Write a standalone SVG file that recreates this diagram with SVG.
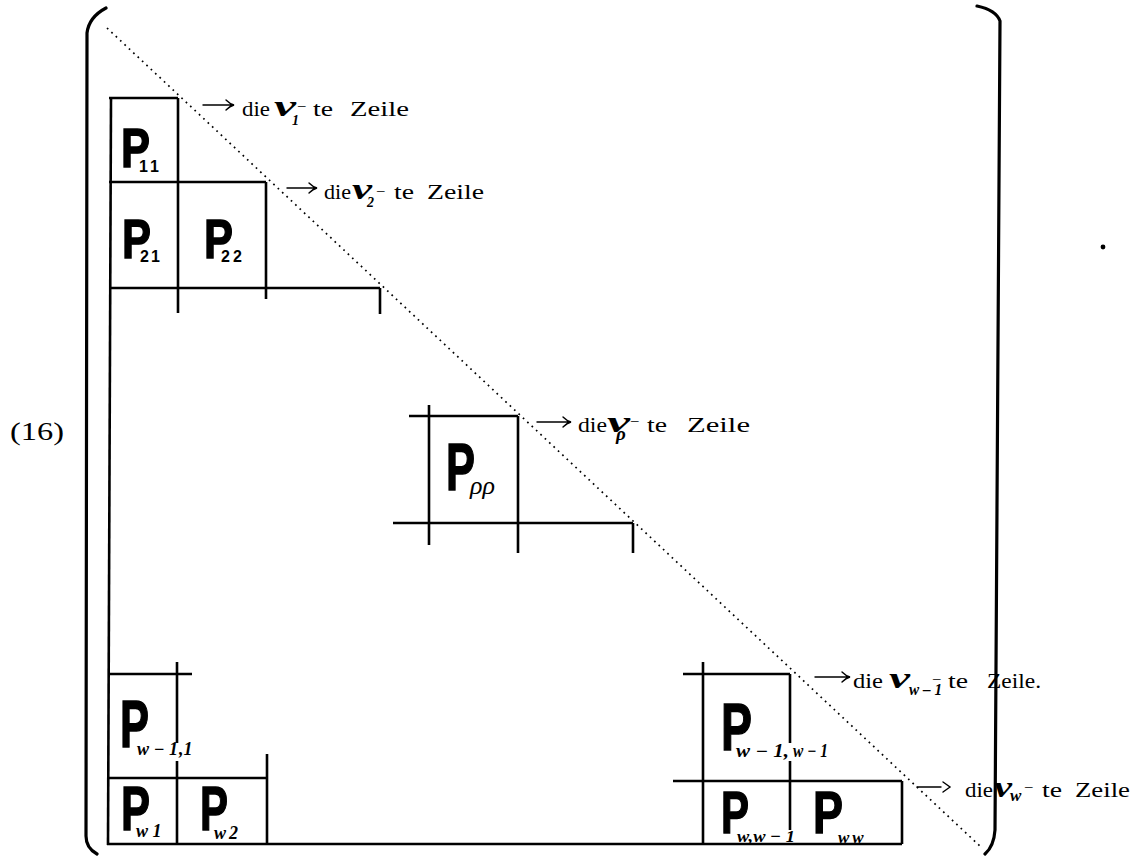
<svg xmlns="http://www.w3.org/2000/svg" width="1136" height="856" viewBox="0 0 1136 856">
<style>
.ln{stroke:#000;stroke-width:2.6;fill:none}
.br{stroke:#000;stroke-width:3.2;fill:none;stroke-linecap:round}
.dot{stroke:#000;stroke-width:1.7;fill:none;stroke-dasharray:1.7 4.3}
.ar{stroke:#000;stroke-width:1.4;fill:none;stroke-linecap:round}
.P{font-family:"Liberation Sans",Arial,sans-serif;font-weight:bold;fill:#000;stroke:#000;stroke-width:1.4}
.sd{font-family:"Liberation Sans",Arial,sans-serif;font-weight:bold;font-size:16px;stroke:none}
.si{font-family:"Liberation Serif","Times New Roman",serif;font-style:italic;font-weight:normal;stroke:none}
.sm{font-family:"Liberation Serif","Times New Roman",serif;font-style:italic;font-weight:bold;stroke:none}
.sb{font-family:"Liberation Serif","Times New Roman",serif;font-style:italic;font-weight:bold}
.t{font-family:"Liberation Serif","Times New Roman",serif;fill:#000;font-size:21px}
.nu{font-style:italic;font-weight:bold;font-size:30px}
.ds{font-size:15px}
</style>
<rect width="1136" height="856" fill="#fff"/>
<text x="10" y="440" font-family="Liberation Serif,Times New Roman,serif" font-size="26" textLength="54" lengthAdjust="spacingAndGlyphs">(16)</text>
<g id="brackets">
<path class="br" d="M106,8 Q89,17 87,33 L86,836 Q86,848 97,854"/>
<path class="br" d="M977,6 Q996,10 1000,21 L995,830 Q994,846 985,854"/>
</g>
<circle cx="1103" cy="247" r="2.4" fill="#000"/>
<g id="grid">
<path class="ln" d="M111,98 L108,845"/>
<path class="ln" d="M109,98 H178 M178,98 V313 M109,182 H266 M266,182 V299 M109,288 H380 M380,288 V314"/>
<path class="ln" d="M409,416 H518 M429,405 V545 M518,416 V553 M393,523 H633 M633,523 V553"/>
<path class="ln" d="M108,674 H192 M177,662 V743 M177,761 V843 M108,778 H267 M267,754 V843 M107,844 H902"/>
<path class="ln" d="M683,674 H790 M703,662 V844 M790,674 V743 M790,761 V830 M673,781 H902 M902,781 V844"/>
</g>
<g id="connectors">
<path class="dot" d="M107,28 L982,848"/>
<path class="ar" d="M203,105 H233 M226,100 Q230,104 234,105 Q230,106 226,110"/>
<path class="ar" d="M287,188 H316 M309,183 Q313,187 317,188 Q313,189 309,193"/>
<path class="ar" d="M537,422 H570 M563,417 Q567,421 571,422 Q567,423 563,427"/>
<path class="ar" d="M815,677 H849 M842,672 Q846,676 850,677 Q846,678 842,682"/>
<path class="ar" d="M917,787 H941 M943,782 L950,787 L943,792"/>
</g>
<g id="label-nu1">
<text class="t"><tspan x="242" y="116" textLength="28" lengthAdjust="spacingAndGlyphs">die</tspan><tspan class="nu" x="274" y="116" textLength="22" lengthAdjust="spacingAndGlyphs">ν</tspan><tspan class="sb" x="292" y="125" font-size="14">1</tspan><tspan class="ds" x="298" y="110">–</tspan><tspan x="313" y="116" textLength="20" lengthAdjust="spacingAndGlyphs">te</tspan><tspan x="350" y="116" textLength="59" lengthAdjust="spacingAndGlyphs">Zeile</tspan></text>
</g>
<g id="label-nu2">
<text class="t"><tspan x="324" y="199" textLength="27" lengthAdjust="spacingAndGlyphs">die</tspan><tspan class="nu" x="352" y="199" textLength="20" lengthAdjust="spacingAndGlyphs">ν</tspan><tspan class="sb" x="367" y="207" font-size="14">2</tspan><tspan class="ds" x="377" y="195">–</tspan><tspan x="394" y="199" textLength="20" lengthAdjust="spacingAndGlyphs">te</tspan><tspan x="427" y="199" textLength="57" lengthAdjust="spacingAndGlyphs">Zeile</tspan></text>
</g>
<g id="label-nurho">
<text class="t"><tspan x="578" y="432" textLength="29" lengthAdjust="spacingAndGlyphs">die</tspan><tspan class="nu" x="607" y="432" textLength="23" lengthAdjust="spacingAndGlyphs">ν</tspan><tspan class="sb" x="616" y="440" font-size="19">ρ</tspan><tspan class="ds" x="631" y="425">–</tspan><tspan x="647" y="432" textLength="20" lengthAdjust="spacingAndGlyphs">te</tspan><tspan x="687" y="432" textLength="63" lengthAdjust="spacingAndGlyphs">Zeile</tspan></text>
</g>
<g id="label-nuw1">
<text class="t"><tspan x="853" y="688" textLength="30" lengthAdjust="spacingAndGlyphs">die</tspan><tspan class="nu" x="889" y="688" textLength="21" lengthAdjust="spacingAndGlyphs">ν</tspan><tspan class="sb" x="909" y="695" font-size="17" textLength="33" lengthAdjust="spacingAndGlyphs">w – 1</tspan><tspan class="ds" x="933" y="683" font-size="12">–</tspan><tspan x="948" y="688" textLength="20" lengthAdjust="spacingAndGlyphs">te</tspan><tspan x="987" y="688" textLength="54" lengthAdjust="spacingAndGlyphs">Zeile.</tspan></text>
</g>
<g id="label-nuw">
<text class="t"><tspan x="965" y="797" textLength="28" lengthAdjust="spacingAndGlyphs">die</tspan><tspan class="nu" x="994" y="797" textLength="18" lengthAdjust="spacingAndGlyphs">ν</tspan><tspan class="sb" x="1010" y="801" font-size="17">w</tspan><tspan class="ds" x="1025" y="791">–</tspan><tspan x="1042" y="797" textLength="20" lengthAdjust="spacingAndGlyphs">te</tspan><tspan x="1075" y="797" textLength="55" lengthAdjust="spacingAndGlyphs">Zeile</tspan></text>
</g>
<g id="P11"><text class="P"><tspan x="121" y="167" font-size="56" textLength="29" lengthAdjust="spacingAndGlyphs">P</tspan><tspan class="sd" x="139" y="172" letter-spacing="3">11</tspan></text></g>
<g id="P21"><text class="P"><tspan x="122" y="258" font-size="56" textLength="29" lengthAdjust="spacingAndGlyphs">P</tspan><tspan class="sd" x="140" y="262" letter-spacing="2">21</tspan></text></g>
<g id="P22"><text class="P"><tspan x="204" y="258" font-size="56" textLength="29" lengthAdjust="spacingAndGlyphs">P</tspan><tspan class="sd" x="221" y="262" letter-spacing="3">22</tspan></text></g>
<g id="Prhorho"><text class="P"><tspan x="446" y="490" font-size="66" textLength="29" lengthAdjust="spacingAndGlyphs">P</tspan><tspan class="si" x="470" y="494" font-size="26">ρρ</tspan></text></g>
<g id="Pw-1_1"><text class="P"><tspan x="120" y="747" font-size="66" textLength="29" lengthAdjust="spacingAndGlyphs">P</tspan><tspan class="sm" x="137" y="755" font-size="18">w − 1</tspan><tspan class="sm" x="179" y="755" font-size="18">,1</tspan></text></g>
<g id="Pw1"><text class="P"><tspan x="121" y="830" font-size="63" textLength="29" lengthAdjust="spacingAndGlyphs">P</tspan><tspan class="sm" x="136" y="837" font-size="18">w 1</tspan></text></g>
<g id="Pw2"><text class="P"><tspan x="200" y="830" font-size="63" textLength="28" lengthAdjust="spacingAndGlyphs">P</tspan><tspan class="sm" x="214" y="839" font-size="18" letter-spacing="3">w2</tspan></text></g>
<g id="Pw-1_w-1"><text class="P"><tspan x="721" y="750" font-size="66" textLength="31" lengthAdjust="spacingAndGlyphs">P</tspan><tspan class="sm" x="736" y="757" font-size="18" textLength="53" lengthAdjust="spacingAndGlyphs">w − 1,</tspan><tspan class="sm" x="793" y="757" font-size="18" textLength="35" lengthAdjust="spacingAndGlyphs">w − 1</tspan></text></g>
<g id="Pw_w-1"><text class="P"><tspan x="721" y="833" font-size="60" textLength="28" lengthAdjust="spacingAndGlyphs">P</tspan><tspan class="sm" x="737" y="842" font-size="17" textLength="58" lengthAdjust="spacingAndGlyphs">w,w − 1</tspan></text></g>
<g id="Pww"><text class="P"><tspan x="813" y="833" font-size="60" textLength="30" lengthAdjust="spacingAndGlyphs">P</tspan><tspan class="sm" x="838" y="843" font-size="17" letter-spacing="3">ww</tspan></text></g>
</svg>
